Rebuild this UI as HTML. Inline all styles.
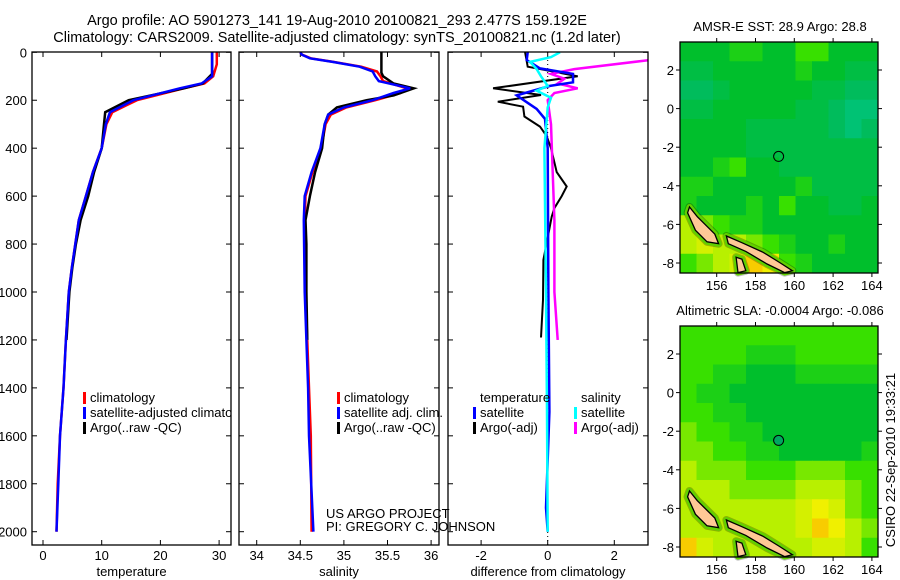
<!DOCTYPE html>
<html><head><meta charset="utf-8"><style>
body{margin:0;background:#fff;}
svg{display:block;font-family:"Liberation Sans",sans-serif;}
</style></head><body>
<svg id="c" width="900" height="580" viewBox="0 0 900 580">
<rect width="900" height="580" fill="#fff"/>
<text x="337" y="25" font-size="14.5" text-anchor="middle">Argo profile: AO 5901273_141 19-Aug-2010 20100821_293 2.477S 159.192E</text>
<text x="337" y="42" font-size="14.5" text-anchor="middle">Climatology: CARS2009. Satellite-adjusted climatology: synTS_20100821.nc (1.2d later)</text>
<defs><clipPath id="legclip"><rect x="32" y="380" width="199" height="60"/></clipPath></defs>
<g id="g"></g>
</svg>
<script>
// ---- depth data ----
const depthTClim = [0,50,100,130,150,200,250,300,400,500,600,700,800,900,1000,1200,1400,1600,1800,2000];
const tempClim   = [29.6,29.6,29.0,27.5,24.0,16.0,11.8,10.8,10.0,8.5,7.3,6.1,5.5,4.9,4.4,3.9,3.5,2.9,2.5,2.3];
const tempSat    = [28.8,28.8,28.8,27.0,23.3,15.4,11.4,10.7,10.0,8.5,7.3,6.1,5.5,4.9,4.4,3.9,3.5,2.9,2.6,2.3];
const depthTArgo = [0,90,130,150,200,250,300,400,500,600,700,800,900,1000,1200];
const tempArgo   = [28.8,28.8,27.2,24.0,14.6,10.6,10.4,10.0,8.7,7.7,6.4,5.6,5.0,4.5,4.0];

const depthS   = [0,10,25,40,60,80,100,120,150,170,200,230,260,300,400,500,600,700,1000,1400,1600,2000];
const salClim  = [34.50,34.52,34.62,34.88,35.2,35.38,35.42,35.45,35.72,35.65,35.36,35.03,34.85,34.79,34.74,34.64,34.56,34.55,34.56,34.60,34.62,34.63];
const salSat   = [34.50,34.52,34.61,34.87,35.18,35.33,35.36,35.40,35.76,35.57,35.33,35.0,34.82,34.78,34.73,34.63,34.55,34.54,34.55,34.59,34.60,34.65];
const depthSArgo = [0,85,100,130,150,180,200,230,260,300,400,500,600,700,800,1000,1200];
const salArgo    = [35.43,35.43,35.45,35.57,35.80,35.57,35.26,34.92,34.82,34.78,34.75,34.67,34.61,34.56,34.57,34.57,34.58];

const depthDTA = [0,60,100,150,178,206,227,268,310,350,400,500,560,600,650,686,866,1033,1190];
const diffTArgo= [-0.68,-0.6,0.9,-1.64,-0.2,-1.5,-0.74,-0.7,-0.23,-0.03,0.1,0.27,0.57,0.42,0.2,0.12,-0.13,-0.14,-0.2];
const depthDTS = [0,32,67,90,125,140,180,208,236,278,400,1000,1500,1700,1900,2000];
const diffTSat = [-0.6,-0.63,-0.23,0.76,0.76,0.07,-0.93,-0.63,-0.33,-0.08,0.0,0.02,0.05,0.0,-0.05,0.0];
const depthDSA = [30,70,90,110,130,150,170,200,300,500,700,1000,1200];
const diffSArgo= [3.2,0.8,0.1,0.5,0.3,0.9,0.2,0.0,0.1,0.15,0.2,0.2,0.3];
const depthDSS = [0,20,40,70,100,140,160,190,230,400,1000,1500,2000];
const diffSSat = [0.37,0.1,-0.53,-0.33,-0.2,0.0,-0.33,0.1,0.0,-0.1,-0.05,-0.02,0.0];

// ---- map grids (colour index 0 teal .. 6 orange) ----
const sstGrid = [
[2,2,2,2.5,2.5,2,2,3,3,2,2,2],
[1.5,1.5,2,2,2,2,2,2.5,2,2,1.5,1.5],
[1,1,1.5,2,2,2,2,2,1.5,1.5,1,1],
[1.5,1.5,2,2,2,2,2,1.5,1.5,1,0.5,0.5],
[2,2,2,2,1.5,1.5,1.5,1.5,1.5,1,0.5,1],
[2,2,2,2,1.5,1.5,1.5,1.5,1.5,1.5,1.5,1.5],
[2,2,2.5,3,2,2,1.5,1.5,1.5,1.5,1.5,1.5],
[2.5,2.5,2,2,2,2,2,2.5,1.5,1.5,1.5,1.5],
[2.5,2,2,2,2.5,2,3,2,2,1.5,1.5,2],
[4,3.5,3,2.5,2.5,2,2,2,2,2,2,2],
[4,4.5,4,4,3.5,3,2.5,2,2,2.5,2,2],
[3,3.5,4,4.5,5.5,5,3,2.5,2,2,2,2]];
const slaGrid = [
[3,3,3,3,3,3,3,3,3,3,3,3],
[3,3,3,3,2.5,2.5,2.5,3,3,3,3,3],
[3,3,2.5,2.5,2,2,2,2.5,2.5,2.5,2.5,2.5],
[3,2.5,2.5,2,2,2,2,2,2,2,2,2],
[3,3,2.5,2.5,2,2,2,2,2,2,2,2],
[3.5,3,3,2.5,2.5,2,2,2,2,2,2,2],
[3.5,3.5,3,3,2.5,2.5,2,2,2,2,2,2.5],
[4,3.5,3.5,3.5,3,3,3,3.5,3.5,3.5,3,3],
[4,4,4,3.5,3.5,3.5,3.5,4,4,4,3.5,3],
[4,4,4,4,4,4,4,4.5,5,4.5,3.5,3],
[4,4,4,4,4,4,4,4.5,5.5,5,4,3.5],
[5.5,4.5,4,4,4,4,4,4,4.5,4.5,4,3]];
const island1 = [[154.6,-5.1],[155.0,-5.6],[155.9,-6.5],[156.1,-7.0],[155.5,-6.9],[154.9,-6.3],[154.5,-5.4]];
const island2 = [[156.5,-6.6],[157.3,-6.95],[158.4,-7.45],[159.2,-7.95],[159.9,-8.4],[159.5,-8.5],[158.6,-8.05],[157.5,-7.4],[156.6,-7.0]];
const island3 = [[157.0,-7.7],[157.3,-7.8],[157.5,-8.4],[157.1,-8.5]];
const argoPos = [159.192,-2.477];

const NS='http://www.w3.org/2000/svg';
const G=document.getElementById('g');
function mk(tag,attrs,parent){const e=document.createElementNS(NS,tag);for(const k in attrs)e.setAttribute(k,attrs[k]);(parent||G).appendChild(e);return e;}
function txt(x,y,s,size,anchor,parent){const t=mk('text',{x:x,y:y,'font-size':size||13,'text-anchor':anchor||'middle'},parent);t.textContent=s;return t;}

const yD = d => 52.3 + 0.2397*d;
const panels = [
 {x0:32,x1:231,f:v=>43+5.87*v,ticks:[0,10,20,30],lab:'temperature',name:'temperature-panel'},
 {x0:239,x1:439,f:v=>256.7+87.2*(v-34),ticks:[34,34.5,35,35.5,36],lab:'salinity',name:'salinity-panel'},
 {x0:448,x1:648,f:v=>547.7+33.3*v,ticks:[-2,0,2],lab:'difference from climatology',name:'difference-panel'}];
const yB=545;
panels.forEach((p,i)=>{
  const g=mk('g',{});
  
  
  p.g=g;
  const cp=mk('clipPath',{id:'cp'+i},g);mk('rect',{x:p.x0,y:52,width:p.x1-p.x0,height:yB-52},cp);
  p.ticks.forEach(t=>{const x=p.f(t);
    mk('line',{x1:x,y1:yB,x2:x,y2:yB-5,stroke:'#000'},g);
    mk('line',{x1:x,y1:52,x2:x,y2:57,stroke:'#000'},g);
    const tl=txt(x,560,String(t),13,'middle',g);
    
    });
  [0,200,400,600,800,1000,1200,1400,1600,1800,2000].forEach(d=>{
    mk('line',{x1:p.x0,y1:yD(d),x2:p.x0+5,y2:yD(d),stroke:'#000'},g);
    mk('line',{x1:p.x1,y1:yD(d),x2:p.x1-5,y2:yD(d),stroke:'#000'},g);
    if(i==0){const tl=txt(27,yD(d)+5,String(d),13,'end',g);
      
      }
  });
  const xl=txt((p.x0+p.x1)/2,576,p.lab,13,'middle',g);
  
  
});
function line(p,depths,vals,col,name,w){
  const pts=depths.map((d,k)=>p.f(vals[k]).toFixed(1)+','+yD(d).toFixed(1)).join(' ');
  const l=mk('polyline',{points:pts,fill:'none',stroke:col,'stroke-width':w||2.5,'clip-path':'url(#cp'+panels.indexOf(p)+')'},p.g);
  
  
}
const [P1,P2,P3]=panels;
line(P1,depthTClim,tempClim,'#f00','temp-climatology-line');
line(P1,depthTArgo,tempArgo,'#000','temp-argo-line');
line(P1,depthTClim,tempSat,'#00f','temp-satellite-line');
line(P2,depthS,salClim,'#f00','sal-climatology-line');
line(P2,depthSArgo,salArgo,'#000','sal-argo-line');
line(P2,depthS,salSat,'#00f','sal-satellite-line');
mk('line',{x1:P3.f(0),y1:52,x2:P3.f(0),y2:yB,stroke:'#000','stroke-dasharray':'1,3'},P3.g);
line(P3,depthDTA,diffTArgo,'#000','diff-temp-argo-line',2);
line(P3,depthDSA,diffSArgo,'#f0f','diff-sal-argo-line');
line(P3,depthDTS,diffTSat,'#00f','diff-temp-satellite-line');
line(P3,depthDSS,diffSSat,'#0ff','diff-sal-satellite-line');
panels.forEach(p=>mk('rect',{x:p.x0,y:52,width:p.x1-p.x0,height:yB-52,fill:'none',stroke:'#000','stroke-width':1.3},p.g));

function legend(x,y,items,name,clip){
  const g=mk('g',{});
  
  
  if(clip)g.setAttribute('clip-path','url(#legclip)');
  items.forEach((it,k)=>{
    if(it[1])mk('rect',{x:x,y:y+15*k-10,width:3,height:12,fill:it[1]},g);
    txt(x+7,y+15*k,it[0],13,'start',g);
  });
}
legend(83,402,[['climatology','#f00'],['satellite-adjusted climatology','#00f'],['Argo(..raw -QC)','#000']],'temperature-legend',true);
legend(337,402,[['climatology','#f00'],['satellite adj. clim.','#00f'],['Argo(..raw -QC)','#000']],'salinity-legend');
legend(473,402,[['temperature',null],['satellite','#00f'],['Argo(-adj)','#000']],'diff-temperature-legend');
legend(574,402,[['salinity',null],['satellite','#0ff'],['Argo(-adj)','#f0f']],'diff-salinity-legend');
const a1=txt(326,518,'US ARGO PROJECT',13,'start');

const a2=txt(326,531,'PI: GREGORY C. JOHNSON',13,'start');


// ---- maps ----
const cmap=['#00c88c','#00bc5c','#00bf2c','#38e000','#b8f000','#f0f000','#ffa800'];
function cm(v){const i=Math.floor(v),f=v-i;if(i>=6)return cmap[6];
  const a=cmap[i],b=cmap[i+1];const h=s=>[1,3,5].map(j=>parseInt(s.substr(j,2),16));
  const A=h(a),B=h(b);return 'rgb('+A.map((c,j)=>Math.round(c+(B[j]-c)*f)).join(',')+')';}
function drawMap(top,grid,title,name,filled){
  const g=mk('g',{});
  
  
  const L=680,R=878,T=top,Bm=top+231;
  const lonX=lo=>716.7+19.4*(lo-156), latY=la=>T+28+19.3*(2-la);
  const rows=grid.length,cols=grid[0].length,cw=(R-L)/cols,ch=(Bm-T)/rows;
  grid.forEach((r,i)=>r.forEach((v,j)=>{
    const c=mk('rect',{x:L+j*cw,y:T+i*ch,width:cw+0.5,height:ch+0.5,fill:cm(v)},g);
    
    
  }));
  [island1,island2,island3].forEach(isl=>{
    const pts=isl.map(p=>lonX(p[0]).toFixed(1)+','+latY(p[1]).toFixed(1)).join(' ');
    mk('polygon',{points:pts,fill:'none',stroke:'#000','stroke-width':8,'stroke-linejoin':'round',opacity:0.25},g);
    mk('polygon',{points:pts,fill:'none',stroke:'#60d000','stroke-width':6,'stroke-linejoin':'round'},g);
    const pl=mk('polygon',{points:pts,fill:'#ffc896',stroke:'#000','stroke-width':1.3},g);
    
    
  });
  const ci=mk('circle',{cx:lonX(argoPos[0]),cy:latY(argoPos[1]),r:5,fill:filled?'#00a860':'none',stroke:'#000','stroke-width':1},g);
  
  
  mk('rect',{x:L,y:T,width:R-L,height:Bm-T,fill:'none',stroke:'#000','stroke-width':1.3},g);
  [156,158,160,162,164].forEach(lo=>{const x=lonX(lo);
    mk('line',{x1:x,y1:T,x2:x,y2:T-4,stroke:'#000'},g);
    mk('line',{x1:x,y1:Bm,x2:x,y2:Bm+4,stroke:'#000'},g);
    txt(x,Bm+17,String(lo),13,'middle',g);});
  [2,0,-2,-4,-6,-8].forEach(la=>{const y=latY(la);
    mk('line',{x1:L,y1:y,x2:L-4,y2:y,stroke:'#000'},g);
    mk('line',{x1:R,y1:y,x2:R+4,y2:y,stroke:'#000'},g);
    txt(674,y+5,String(la),13,'end',g);});
  const t=txt(780,T-11,title,13,'middle',g);
  
  
}
drawMap(42,sstGrid,'AMSR-E SST: 28.9 Argo: 28.8','sst-map',false);
drawMap(326,slaGrid,'Altimetric SLA: -0.0004 Argo: -0.086','sla-map',true);
const cs=txt(0,0,'CSIRO 22-Sep-2010 19:33:21',13,'middle');
cs.setAttribute('transform','translate(895,460) rotate(-90)');


</script>
</body></html>
